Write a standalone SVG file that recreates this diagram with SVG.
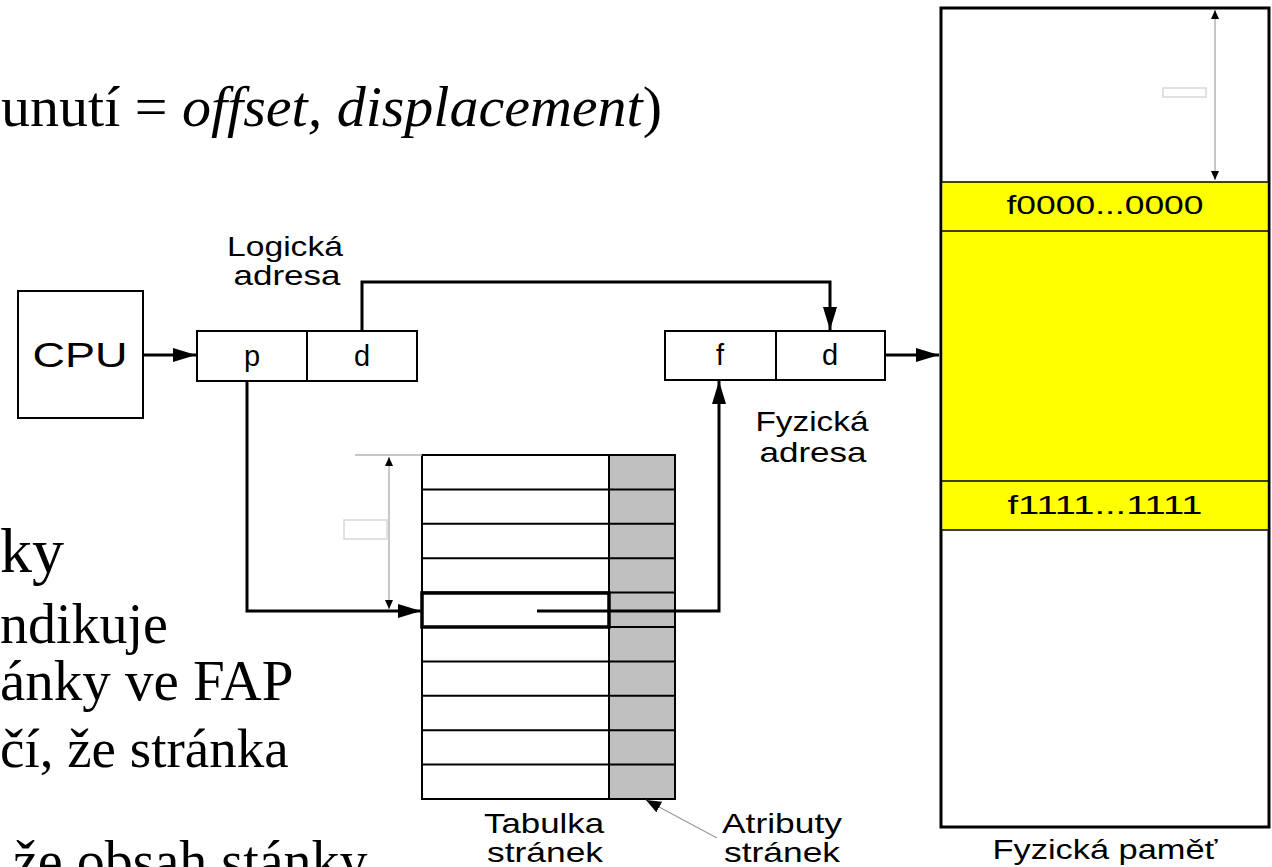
<svg xmlns="http://www.w3.org/2000/svg" width="1272" height="867" viewBox="0 0 1272 867">
<style>
  .serif { font-family: "Liberation Serif", "Times New Roman", serif; fill: #000; }
  .sans { font-family: "Liberation Sans", Arial, sans-serif; fill: #000; }
  .box { fill: #fff; stroke: #000; stroke-width: 2; }
  .conn { fill: none; stroke: #000; stroke-width: 3; }
  .thin { fill: none; stroke: #000; stroke-width: 2; }
  .dim { fill: none; stroke: #b4b4b4; stroke-width: 1.5; }
  .ghost { fill: #fff; stroke: #d8d8d8; stroke-width: 1.5; }
</style>
<defs>
  <marker id="ah" markerUnits="userSpaceOnUse" markerWidth="24" markerHeight="16" refX="23" refY="8" orient="auto">
    <path d="M0,1 L23,8 L0,15 z" fill="#000"/>
  </marker>
  <marker id="sm" markerUnits="userSpaceOnUse" markerWidth="10" markerHeight="8" refX="9" refY="4" orient="auto">
    <path d="M0,0 L9,4 L0,8 z" fill="#000"/>
  </marker>
  <marker id="smStart" markerUnits="userSpaceOnUse" markerWidth="10" markerHeight="8" refX="0" refY="4" orient="auto">
    <path d="M9,0 L0,4 L9,8 z" fill="#000"/>
  </marker>
  <marker id="ptr" markerUnits="userSpaceOnUse" markerWidth="16" markerHeight="12" refX="15" refY="6" orient="auto">
    <path d="M0,0 L15,6 L0,12 z" fill="#000"/>
  </marker>
</defs>

<g id="slide-text">
  <text class="serif" x="662" y="126" font-size="58" text-anchor="end">unutí = <tspan font-style="italic">offset, displacement</tspan>)</text>
  <text class="serif" x="0" y="572" font-size="64">ky</text>
  <text class="serif" x="0" y="643" font-size="56">ndikuje</text>
  <text class="serif" x="0" y="700" font-size="57">ánky ve FAP</text>
  <text class="serif" x="0" y="767" font-size="55">čí, že stránka</text>
  <text class="serif" x="13" y="880" font-size="56">že obsah stánky</text>
</g>

<g id="cpu">
  <rect class="box" x="18" y="291" width="125" height="127"/>
  <text class="sans" x="80" y="367" font-size="35" text-anchor="middle" textLength="95" lengthAdjust="spacingAndGlyphs">CPU</text>
</g>

<g id="logical-address">
  <rect class="box" x="197" y="331" width="220" height="50"/>
  <line class="thin" x1="307" y1="331" x2="307" y2="381"/>
  <text class="sans" x="252" y="366" font-size="29" text-anchor="middle">p</text>
  <text class="sans" x="362" y="366" font-size="29" text-anchor="middle">d</text>
  <text class="sans" x="285" y="256" font-size="28" text-anchor="middle" textLength="116" lengthAdjust="spacingAndGlyphs">Logická</text>
  <text class="sans" x="287" y="285" font-size="28" text-anchor="middle" textLength="107" lengthAdjust="spacingAndGlyphs">adresa</text>
</g>

<g id="physical-address">
  <rect class="box" x="665" y="331" width="220" height="49"/>
  <line class="thin" x1="776" y1="331" x2="776" y2="380"/>
  <text class="sans" x="720" y="365" font-size="29" text-anchor="middle">f</text>
  <text class="sans" x="830" y="365" font-size="29" text-anchor="middle">d</text>
  <text class="sans" x="812" y="431" font-size="28" text-anchor="middle" textLength="113" lengthAdjust="spacingAndGlyphs">Fyzická</text>
  <text class="sans" x="813" y="462" font-size="28" text-anchor="middle" textLength="107" lengthAdjust="spacingAndGlyphs">adresa</text>
</g>

<g id="page-table">
  <rect x="609" y="455" width="66" height="344" fill="#c0c0c0"/>
  <rect x="422" y="455" width="187" height="344" fill="#fff"/>
  <g class="thin">
    <rect x="422" y="455" width="253" height="344"/>
    <line x1="609" y1="455" x2="609" y2="799"/>
    <line x1="422" y1="489.4" x2="675" y2="489.4"/>
    <line x1="422" y1="523.8" x2="675" y2="523.8"/>
    <line x1="422" y1="558.2" x2="675" y2="558.2"/>
    <line x1="422" y1="592.6" x2="675" y2="592.6"/>
    <line x1="422" y1="627" x2="675" y2="627"/>
    <line x1="422" y1="661.4" x2="675" y2="661.4"/>
    <line x1="422" y1="695.8" x2="675" y2="695.8"/>
    <line x1="422" y1="730.2" x2="675" y2="730.2"/>
    <line x1="422" y1="764.6" x2="675" y2="764.6"/>
  </g>
  <rect x="422" y="593" width="187" height="34" fill="none" stroke="#000" stroke-width="3.5"/>
  <line class="dim" x1="355" y1="455" x2="422" y2="455"/>
  <line class="dim" x1="389" y1="457" x2="389" y2="609" marker-start="url(#smStart)" marker-end="url(#sm)"/>
  <rect class="ghost" x="344" y="520" width="43" height="19"/>
  <text class="sans" x="544" y="833" font-size="28" text-anchor="middle" textLength="120" lengthAdjust="spacingAndGlyphs">Tabulka</text>
  <text class="sans" x="545" y="862" font-size="28" text-anchor="middle" textLength="116" lengthAdjust="spacingAndGlyphs">stránek</text>
</g>

<g id="page-attributes">
  <text class="sans" x="782" y="833" font-size="28" text-anchor="middle" textLength="120" lengthAdjust="spacingAndGlyphs">Atributy</text>
  <text class="sans" x="782" y="862" font-size="28" text-anchor="middle" textLength="116" lengthAdjust="spacingAndGlyphs">stránek</text>
</g>

<g id="physical-memory">
  <rect x="941" y="8" width="328" height="819" fill="#fff" stroke="#000" stroke-width="3"/>
  <rect x="942.5" y="182" width="325" height="348" fill="#ffff00"/>
  <g stroke="#000" stroke-width="1.5">
    <line x1="941" y1="182" x2="1269" y2="182"/>
    <line x1="941" y1="231" x2="1269" y2="231"/>
    <line x1="941" y1="481" x2="1269" y2="481"/>
    <line x1="941" y1="530" x2="1269" y2="530"/>
  </g>
  <text class="sans" x="1105" y="214" font-size="26" text-anchor="middle" textLength="197" lengthAdjust="spacingAndGlyphs">f0000...0000</text>
  <text class="sans" x="1105" y="514" font-size="26" text-anchor="middle" textLength="195" lengthAdjust="spacingAndGlyphs">f1111...1111</text>
  <line class="dim" x1="1215" y1="10" x2="1215" y2="180" marker-start="url(#smStart)" marker-end="url(#sm)"/>
  <rect class="ghost" x="1163" y="88" width="43" height="9"/>
  <text class="sans" x="1105" y="859" font-size="28" text-anchor="middle" textLength="225" lengthAdjust="spacingAndGlyphs">Fyzická paměť</text>
</g>

<g id="connectors">
  <path class="conn" d="M143,355 H196" marker-end="url(#ah)"/>
  <path class="conn" d="M362,331 V282 H830 V330" marker-end="url(#ah)"/>
  <path class="conn" d="M247,381 V611 H421" marker-end="url(#ah)"/>
  <path class="conn" d="M537,611 H719 V381" marker-end="url(#ah)"/>
  <path class="conn" d="M885,355 H939" marker-end="url(#ah)"/>
  <path d="M717,838 L646,800" fill="none" stroke="#999" stroke-width="1.2" marker-end="url(#ptr)"/>
</g>
</svg>
